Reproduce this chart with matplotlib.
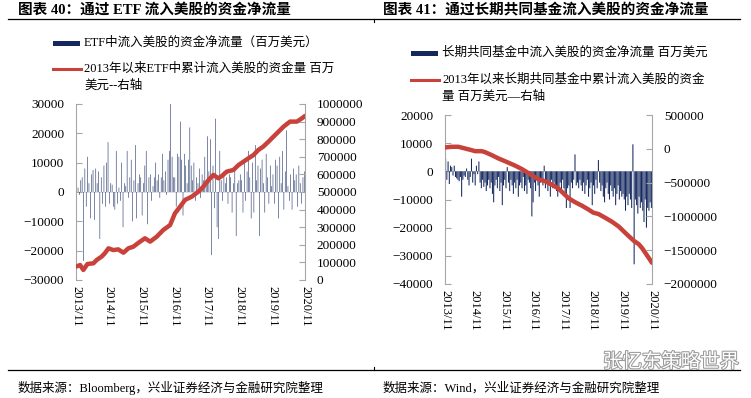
# -*- coding: utf-8 -*-
import matplotlib.pyplot as plt
import matplotlib.patheffects as pe
from matplotlib.lines import Line2D
from matplotlib.patches import Rectangle
import numpy as np

plt.rcParams['font.family'] = ['Liberation Serif', 'Noto Sans CJK SC']

#****************************************************************
# Datos (miles de millones de USD -> se multiplican por 1000)
etiquetasX = ['2013/11', '2014/11', '2015/11', '2016/11',
              '2017/11', '2018/11', '2019/11', '2020/11']

# Figura 40: flujo neto quincenal hacia acciones de EE.UU. via ETF
etfFlujo = [
    2.0, 1.5, -1.0, 4.0, 5.0, -23.5, 8.0, -5.0, 12.0, 3.0, -9.0, 6.0,
    7.5, -9.5, 8.0, 3.0, 7.0, -16.0, 5.0, -4.0, 9.0, -5.0, 10.0, 17.0,
    -4.0, 3.0, 2.5, -5.0, -6.0, 14.0, -4.0, 1.5, -3.0, 10.0, -12.0, 3.0,
    2.0, 14.0, -2.0, 5.0, 11.0, -10.0, 4.0, 16.0, -9.0, 3.0, 6.0, 5.0,
    -8.0, 3.0, 9.0, 14.0, -11.0, 5.0, 6.0, -3.0, 2.0, 5.0, 10.0, 4.0,
    6.0, -2.0, 5.0, 13.0, 4.0, 7.0, -1.0, 11.0, 14.0, 30.0, 12.0, 5.0,
    5.0, -5.0, 13.0, 12.0, 24.0, 11.0, -8.0, 13.0, 9.0, 3.0, 11.0, 22.0,
    9.0, 4.0, 10.0, -3.0, 5.0, 3.0, 8.0, -2.0, 6.0, 4.0, 12.0, 2.0,
    19.0, 7.0, 18.0, -21.5, 9.0, -5.5, 25.0, -12.0, -16.0, 14.0, 4.0, -3.0,
    7.0, 3.0, 5.0, -4.0, 6.0, 5.0, -7.0, 3.0, 8.0, -15.0, 3.0, 4.0,
    6.0, 4.0, -7.0, 11.0, -3.0, 7.0, 14.0, 5.0, -9.0, 10.0, -7.0, 16.0,
    4.0, 9.0, -15.0, 8.0, 11.0, 3.0, -7.0, 13.0, 5.0, -4.0, 9.0, 2.0,
    6.0, -4.0, 11.0, 9.0, -9.0, 12.0, 3.0, 14.0, -6.0, 7.0, 21.0, 2.0,
    -3.0, 6.0, -6.0, 8.0, 4.0, 6.0, -5.0, 9.0, 3.0, -4.0, 5.0, 7.0]
# Acumulado desde 2013 (meses desde 2013/11, miles de millones)
etfAcumMes = [0, 1.5, 2.7, 4.2, 6.4, 7.6, 9.4, 10.6, 11.9, 13.7, 15.5, 17.4,
              19.2, 21, 23.5, 25.3, 27.2, 29.6, 32, 34.5, 36.3, 38.2, 40,
              42.4, 44.9, 46.7, 48.6, 50.4, 52.2, 53.5, 55.3, 57.7, 59.6,
              61.4, 63.2, 65.1, 66.9, 68.7, 70.6, 72.4, 74.3, 76.1, 78.5,
              81, 82.8, 84]
etfAcum = [76, 85, 57, 91, 95, 114, 133, 152, 180, 170, 174, 155, 180, 189,
           218, 237, 218, 246, 284, 312, 379, 417, 455, 473, 502, 530, 568,
           597, 578, 591, 616, 625, 653, 672, 691, 710, 739, 758, 786, 814,
           843, 871, 900, 900, 918, 932]

# Figura 41: flujo neto de fondos mutuos de largo plazo
fondoFlujo = [
    4.5, -3.0, 3.5, -4.5, 2.0, 1.5, -1.5, 2.0, -2.0, -2.5, -3.0, -3.5,
    -2.0, -9.0, -3.0, -1.5, -2.0, 1.0, -3.0, -5.0, -2.0, 4.5, -4.0, -1.0,
    -5.0, 2.0, -1.0, 3.5, -4.0, -6.0, -3.0, -5.5, -4.0, -7.0, -5.0, -3.0,
    -6.0, -4.0, -8.0, -11.0, -5.0, -3.0, -6.0, -2.0, -7.0, -4.0, -12.0, -5.0,
    -3.0, -6.0, 1.5, -4.0, -7.0, -3.0, -5.0, -8.0, -4.0, -6.0, -3.0, -9.0,
    -5.0, -4.0, -6.0, -2.0, -7.0, -5.0, -8.0, -3.0, -4.0, -6.0, -16.0, -11.0,
    -4.0, -7.0, -2.0, -5.0, -9.0, -4.0, -3.0, -5.0, 2.0, -6.0, -4.0, -7.0,
    -5.0, -9.0, -3.0, -6.0, -4.0, -5.0, -7.0, -9.0, -6.0, -4.0, -8.0, -3.0,
    -6.0, -8.0, -13.0, -6.0, -5.0, -13.0, -4.0, -6.0, -3.0, 6.0, -5.0, -4.0,
    -6.0, -3.0, -5.0, -7.0, -4.0, -8.0, -5.0, -3.0, -9.0, -6.0, -4.0, -12.0,
    -5.0, -8.0, -3.0, -6.0, 4.0, -4.0, -7.0, -5.0, -9.0, -11.0, -6.0, -4.0,
    -8.0, -10.0, -5.0, -7.0, -9.0, -6.0, -12.0, -8.0, -5.0, -10.0, -7.0, -9.0,
    -8.0, -10.0, -14.0, -9.0, -12.0, -8.0, -10.0, -13.0, 9.6, -33.0, -10.0, -12.0,
    -15.0, -9.0, -13.0, -11.0, -14.0, -18.0, -10.0, -20.0, -13.0, -14.0, -11.0, -13.0]
fondoAcumMes = [0, 2.7, 5.4, 8.1, 10.8, 12.2, 14.9, 16.3, 19, 21.7, 24, 25.7,
                28.5, 31.2, 33.9, 36, 37.9, 40.6, 43.4, 46.1, 48.1, 50.1,
                52.8, 55.5, 58.3, 60.2, 62.3, 65, 67.8, 70.5, 72.2, 74.5,
                76.6, 78.6, 80, 81.3, 82.7, 84]
fondoAcum = [20, 30, 30, 5, -20, -35, -35, -50, -94, -143, -178, -205, -250,
             -300, -360, -410, -450, -480, -530, -590, -660, -730, -790,
             -840, -900, -945, -965, -1020, -1080, -1150, -1210, -1290,
             -1360, -1410, -1470, -1540, -1615, -1686]
#****************************************************************

azul = '#14285f'
rojo = '#c8423b'
gris = '#a6a6a6'


def etiqueta(v):
    return str(int(v)).replace('-', '\u2212')


def grafica(pos, flujo, acumMes, acum, limIzq, pasoIzq, limDer, pasoDer, ancho):
    ax = fig.add_axes(pos)
    xb = np.arange(len(flujo)) * 0.5 + 0.25
    ax.bar(xb, np.array(flujo) * 1000, width=ancho, color=azul, linewidth=0,
           snap=False, zorder=2)
    ax.axhline(0, color='#d4d6e2', lw=0.6, zorder=1)
    ax.set_xlim(0, 84)
    ax.set_ylim(limIzq)
    tk = np.arange(limIzq[0], limIzq[1] + 1, pasoIzq)
    ax.set_yticks(tk, [etiqueta(v) for v in tk])
    ax.set_xticks(np.arange(0, 85, 12), etiquetasX, rotation=-90)
    ax.tick_params(axis='y', direction='in', length=4, color=gris, pad=8.5,
                   labelsize=9.5)
    ax.tick_params(axis='x', length=0, pad=4, labelsize=9)
    for s in ['top', 'bottom', 'right']:
        ax.spines[s].set_visible(False)
    ax.spines['left'].set_color(gris)

    axd = ax.twinx()
    axd.plot(acumMes, np.array(acum) * 1000, color=rojo, lw=3.2,
             solid_capstyle='round')
    axd.set_ylim(limDer)
    tk = np.arange(limDer[0], limDer[1] + 1, pasoDer)
    axd.set_yticks(tk, [etiqueta(v) for v in tk])
    axd.tick_params(axis='y', direction='in', length=4, color=gris, pad=8.5,
                    labelsize=9.5)
    for s in ['top', 'bottom', 'left']:
        axd.spines[s].set_visible(False)
    axd.spines['right'].set_color(gris)
    return ax, axd


fig = plt.figure(figsize=(7.51, 3.98), dpi=100)
H = 398.0
W = 751.0

grafica([76 / W, 1 - 280 / H, 229 / W, 176 / H], etfFlujo, etfAcumMes,
        etfAcum, (-30000, 30000), 10000, (0, 1000000), 100000, 0.2)
grafica([445 / W, 1 - 284 / H, 207 / W, 169 / H], fondoFlujo, fondoAcumMes,
        fondoAcum, (-40000, 20000), 10000, (-2000000, 500000), 500000, 0.42)

# Titulos y lineas
fig.text(18 / W, 1 - 10 / H, '图表 40：通过 ETF 流入美股的资金净流量',
         fontsize=10.5, fontweight='bold', va='center')
fig.text(383 / W, 1 - 10 / H, '图表 41：通过长期共同基金流入美股的资金净流量',
         fontsize=10.5, fontweight='bold', va='center')
fig.add_artist(Line2D([8 / W, 740 / W], [1 - 19 / H, 1 - 19 / H],
                      transform=fig.transFigure, color='black', lw=0.9))
fig.add_artist(Line2D([374 / W, 374 / W], [1 - 19 / H, 1 - 22 / H],
                      transform=fig.transFigure, color='black', lw=0.8))
fig.add_artist(Line2D([8 / W, 740 / W], [1 - 370 / H, 1 - 370 / H],
                      transform=fig.transFigure, color='black', lw=0.9))
fig.add_artist(Line2D([374 / W, 374 / W], [1 - 370 / H, 1 - 367 / H],
                      transform=fig.transFigure, color='black', lw=0.8))

# Leyendas
def leyenda(x, yBar, yLin, texto1, texto2):
    fig.add_artist(Rectangle((x / W, 1 - (yBar + 2.5) / H), 27 / W, 5 / H,
                             transform=fig.transFigure, color=azul, lw=0))
    fig.text((x + 31) / W, 1 - yBar / H, texto1, fontsize=9, va='center')
    fig.add_artist(Line2D([x / W, (x + 28) / W], [1 - yLin / H, 1 - yLin / H],
                          transform=fig.transFigure, color=rojo, lw=2.2))
    for k, t in enumerate(texto2):
        fig.text((x + 31) / W, 1 - (yLin + 17 * k) / H, t, fontsize=9,
                 va='center')


leyenda(53, 43, 69, 'ETF中流入美股的资金净流量（百万美元）',
        ['2013年以来ETF中累计流入美股的资金量 百万', '美元--右轴'])
leyenda(411, 53, 80, '长期共同基金中流入美股的资金净流量 百万美元',
        ['2013年以来长期共同基金中累计流入美股的资金', '量 百万美元—右轴'])

# Fuentes
fig.text(18 / W, 1 - 388 / H, '数据来源：Bloomberg，兴业证券经济与金融研究院整理',
         fontsize=9, va='center')
fig.text(383 / W, 1 - 388 / H, '数据来源：Wind，兴业证券经济与金融研究院整理',
         fontsize=9, va='center')
fig.text(603 / W, 1 - 362 / H, '张忆东策略世界', fontsize=14, va='center',
         color='white',
         path_effects=[pe.withStroke(linewidth=1.5, foreground='#9a9a9a')])

plt.savefig('out.png', dpi=100)
